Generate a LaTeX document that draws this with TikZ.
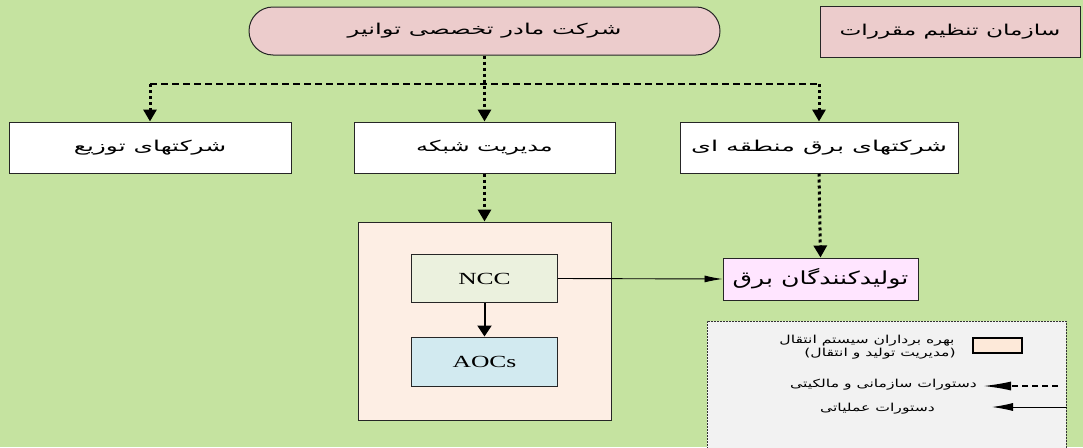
\documentclass[tikz,border=0pt]{standalone}
\usepackage{graphicx}
\usepackage{fontspec}
\setmainfont{Liberation Serif}
\newfontfamily\fafont[Script=Arabic]{DejaVu Sans}
\TeXXeTstate=1
\usetikzlibrary{arrows.meta,shapes.misc}
\newcommand\pers[2][1.62]{\scalebox{#1}[1]{\fafont\beginR #2\endR}}
\newcommand\latn[2][1.5]{\scalebox{#1}[1]{#2}}
\definecolor{bg}{RGB}{197,227,160}
\definecolor{pinkbox}{RGB}{236,204,204}
\definecolor{peach}{RGB}{253,238,228}
\definecolor{nccfill}{RGB}{235,241,222}
\definecolor{aocfill}{RGB}{210,234,240}
\definecolor{genfill}{RGB}{255,229,255}
\definecolor{legfill}{RGB}{242,242,242}
\definecolor{legbox}{RGB}{253,233,217}
\tikzset{
  box/.style={draw=black!85, line width=1pt, fill=white, inner sep=0pt, font=\fontsize{15}{17}\selectfont},
  dotarrow/.style={line width=3pt, dash pattern=on 3pt off 3pt, -{Triangle[width=13pt,length=12pt]}},
  orgline/.style={line width=2pt, dash pattern=on 7pt off 4pt},
  thinarrow/.style={line width=0.9pt, -{Latex[width=7pt,length=18pt]}},
  legtext/.style={inner sep=0pt, font=\fontsize{11}{12}\selectfont},
}
\begin{document}
\begin{tikzpicture}[x=1pt,y=-1pt]
\fill[bg] (0,0) rectangle (1083,447);
\useasboundingbox (0,0) rectangle (1083,447);

% top
\node[box, rounded rectangle, fill=pinkbox, minimum width=471pt, minimum height=48pt] (tavanir) at (484.5,31) {\pers{شرکت مادر تخصصی توانیر}};
\node[box, fill=pinkbox, minimum width=260pt, minimum height=51pt] (reg) at (950,31.5) {\pers[1.55]{سازمان تنظیم مقررات}};

% second row
\node[box, minimum width=282pt, minimum height=51pt] (dist) at (150,147.5) {\pers[1.66]{شرکتهای توزیع}};
\node[box, minimum width=261pt, minimum height=51pt] (grid) at (484.5,147.5) {\pers[1.6]{مدیریت شبکه}};
\node[box, minimum width=278pt, minimum height=51pt] (regional) at (819,147.5) {\pers[1.7]{شرکتهای برق منطقه ای}};

% operators block
\node[box, fill=peach, minimum width=253pt, minimum height=198pt] (ops) at (484.5,321) {};
\node[box, fill=nccfill, minimum width=146pt, minimum height=48pt, font=\fontsize{17}{19}\selectfont] (ncc) at (484.5,278.5) {\latn{NCC}};
\node[box, fill=aocfill, minimum width=146pt, minimum height=49pt, font=\fontsize{17}{19}\selectfont] (aoc) at (484.5,361.5) {\latn{AOCs}};

\node[box, fill=genfill, minimum width=195pt, minimum height=42pt, font=\fontsize{18}{20}\selectfont] (gen) at (820.5,279) {\pers[1.4]{تولیدکنندگان برق}};

% connectors
\coordinate (j1) at (150,84);
\coordinate (j3) at (819,84);
\draw[orgline] (j1) -- (j3);
\draw[dotarrow] (tavanir.south) -- (grid.north);
\draw[dotarrow] (j1) -- (dist.north);
\draw[dotarrow] (j3) -- (regional.north);
\draw[dotarrow] (grid.south) -- (ops.north);
\draw[dotarrow] (regional.south) -- (gen.north);
\draw[line width=2pt, -{Triangle[width=14pt,length=11pt]}] (ncc.south) -- (aoc.north);
\draw[thinarrow] (ncc.east) -- (gen.west);

% legend
\node[draw=black!80, line width=0.6pt, dash pattern=on 2pt off 1pt, fill=legfill, minimum width=359pt, minimum height=140pt, inner sep=0pt, anchor=north west] (legend) at (707,321) {};
\node[draw=black, line width=2pt, fill=legbox, minimum width=49pt, minimum height=15pt, inner sep=0pt] (lbox) at (997,345) {};
\node[legtext] (l1) at (867,341) {\pers[1.42]{بهره برداران سیستم انتقال}};
\node[legtext] (l2) at (880,354) {\pers[1.42]{(مدیریت تولید و انتقال)}};
\node[legtext] (l3) at (883.5,385) {\pers[1.42]{دستورات سازمانی و مالکیتی}};
\node[legtext] (l4) at (877.5,409) {\pers[1.42]{دستورات عملیاتی}};
\coordinate (d1) at (1058,386);
\coordinate (d2) at (983,386);
\coordinate (s1) at (legend.east |- 0,407);
\coordinate (s2) at (992,407);
\draw[line width=1.6pt, dash pattern=on 6pt off 4pt, -{Latex[width=9pt,length=28pt]}] (d1) -- (d2);
\draw[line width=0.9pt, -{Latex[width=8pt,length=21pt]}] (s1) -- (s2);
\end{tikzpicture}
\end{document}
